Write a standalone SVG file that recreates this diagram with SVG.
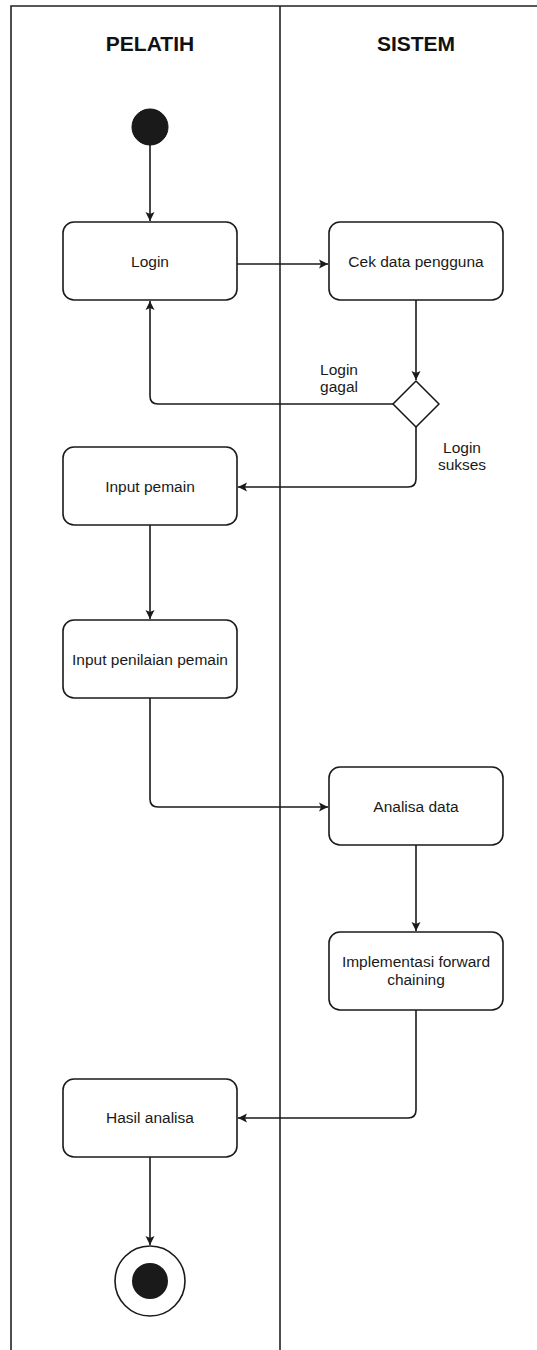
<svg xmlns="http://www.w3.org/2000/svg" width="537" height="1350" viewBox="0 0 537 1350">
<style>
.lane{fill:none;stroke:#222;stroke-width:1.6}
.node{fill:#fff;stroke:#1a1a1a;stroke-width:1.6}
.lbl{font-family:"Liberation Sans",Arial,sans-serif;font-size:15.5px;fill:#1a1a1a;text-anchor:middle}
.hdr{font-family:"Liberation Sans",Arial,sans-serif;font-size:21px;font-weight:bold;fill:#111;text-anchor:middle}
.edge{fill:none;stroke:#1a1a1a;stroke-width:1.6}
</style>
<defs>
<marker id="arr" markerWidth="10" markerHeight="10" refX="9" refY="5" orient="auto" markerUnits="userSpaceOnUse">
<path d="M0,0.5 L9,5 L0,9.5 L2,5 Z" fill="#1a1a1a"/>
</marker>
</defs>
<rect width="537" height="1350" fill="#fff"/>
<g id="pool">
<path class="lane" d="M11,1350 L11,6 L537,6"/>
<path class="lane" d="M280,6 L280,1350"/>
<text class="hdr" x="150" y="51">PELATIH</text>
<text class="hdr" x="416" y="51">SISTEM</text>
</g>
<g id="connectors">
<path class="edge" d="M150,145 L150,221" marker-end="url(#arr)"/>
<path class="edge" d="M237,264 L328,264" marker-end="url(#arr)"/>
<path class="edge" d="M416,300 L416,380" marker-end="url(#arr)"/>
<path class="edge" d="M393,404 L158,404 Q150,404 150,396 L150,301" marker-end="url(#arr)"/>
<path class="edge" d="M416,427 L416,479 Q416,487 408,487 L238,487" marker-end="url(#arr)"/>
<path class="edge" d="M150,525 L150,619" marker-end="url(#arr)"/>
<path class="edge" d="M150,698 L150,799 Q150,807 158,807 L328,807" marker-end="url(#arr)"/>
<path class="edge" d="M416,845 L416,931" marker-end="url(#arr)"/>
<path class="edge" d="M416,1010 L416,1110 Q416,1118 408,1118 L238,1118" marker-end="url(#arr)"/>
<path class="edge" d="M150,1157 L150,1245" marker-end="url(#arr)"/>
<text class="lbl" x="339" y="375">Login</text>
<text class="lbl" x="339" y="392">gagal</text>
<text class="lbl" x="462" y="453">Login</text>
<text class="lbl" x="462" y="470">sukses</text>
</g>
<g id="start"><circle cx="150" cy="127" r="18" fill="#1a1a1a" stroke="#111" stroke-width="1"/></g>
<g id="login"><rect class="node" x="63" y="222" width="174" height="78" rx="11"/><text class="lbl" x="150" y="267">Login</text></g>
<g id="cek"><rect class="node" x="329" y="222" width="174" height="78" rx="11"/><text class="lbl" x="416" y="267">Cek data pengguna</text></g>
<g id="decision"><path class="node" d="M416,381 L439,404 L416,427 L393,404 Z" stroke-linejoin="round"/></g>
<g id="inputpemain"><rect class="node" x="63" y="447" width="174" height="78" rx="11"/><text class="lbl" x="150" y="492">Input pemain</text></g>
<g id="inputpenilaian"><rect class="node" x="63" y="620" width="174" height="78" rx="11"/><text class="lbl" x="150" y="665">Input penilaian pemain</text></g>
<g id="analisa"><rect class="node" x="329" y="767" width="174" height="78" rx="11"/><text class="lbl" x="416" y="812">Analisa data</text></g>
<g id="implementasi"><rect class="node" x="329" y="932" width="174" height="78" rx="11"/><text class="lbl" x="416" y="967">Implementasi forward</text><text class="lbl" x="416" y="985">chaining</text></g>
<g id="hasil"><rect class="node" x="63" y="1079" width="174" height="78" rx="11"/><text class="lbl" x="150" y="1123">Hasil analisa</text></g>
<g id="end"><circle cx="150" cy="1281" r="35" fill="#fff" stroke="#1a1a1a" stroke-width="1.6"/><circle cx="150" cy="1281" r="18" fill="#1a1a1a"/></g>
</svg>
